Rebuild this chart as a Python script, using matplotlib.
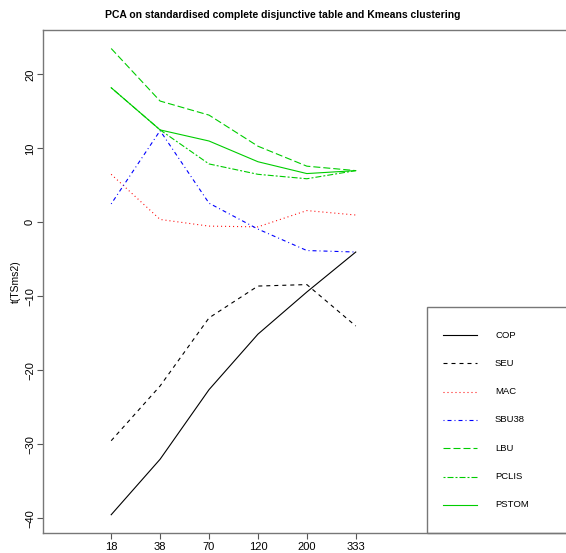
import matplotlib
matplotlib.use("Agg")
import matplotlib.pyplot as plt
from matplotlib.patches import Rectangle
from matplotlib.lines import Line2D

plt.rcParams['font.family'] = ['Liberation Sans', 'DejaVu Sans']
plt.rcParams['lines.scale_dashes'] = False

# data
sizes = ['18', '38', '70', '120', '200', '333']
series = ['COP', 'SEU', 'MAC', 'SBU38', 'LBU', 'PCLIS', 'PSTOM']
cop = [-39.5, -32.0, -22.6, -15.1, -9.4, -4.0]
seu = [-29.5, -22.1, -12.9, -8.6, -8.4, -14.0]
mac = [6.5, 0.4, -0.5, -0.6, 1.6, 1.0]
sbu38 = [2.5, 12.4, 2.6, -0.9, -3.8, -4.0]
lbu = [23.5, 16.4, 14.5, 10.3, 7.6, 7.0]
pclis = [18.2, 12.5, 7.9, 6.5, 5.9, 7.0]
pstom = [18.2, 12.5, 11.0, 8.2, 6.6, 7.0]
values = [cop, seu, mac, sbu38, lbu, pclis, pstom]

# R-like styles (dash lengths in points)
colors = ['black', 'black', '#FF0000', '#0000FF', '#00CD00', '#00CD00', '#00CD00']
p = 0.72
styles = ['-', (0, (4*p, 4*p)), (0, (1*p, 3*p)), (0, (1*p, 3*p, 4*p, 3*p)),
          (0, (7*p, 3*p)), (0, (2*p, 2*p, 6*p, 2*p)), '-']

W, H = 566, 553
fig = plt.figure(figsize=(W/100, H/100), dpi=100)

def fx(px):
    return px / W

def fy(py):
    return 1 - py / H

left, right, top, bottom = 42.7, 571, 30, 532.5
ax = fig.add_axes([fx(left), fy(bottom), fx(right) - fx(left), fy(top) - fy(bottom)])

x = list(range(1, len(sizes) + 1))
for vals, c, ls in zip(values, colors, styles):
    ax.plot(x, vals, color=c, linestyle=ls, lw=0.8)

ax.set_xlim(-0.4, 10.4)
ax.set_ylim(-41.9, 26.0)
ax.set_xticks(x)
ax.set_xticklabels(sizes)
ax.set_yticks([-40, -30, -20, -10, 0, 10, 20])
ax.tick_params(axis='y', labelrotation=90, pad=1.5)
for lab in ax.get_yticklabels():
    lab.set_va('center')
ax.tick_params(length=4, width=0.8, color='#555555', labelsize=8)
ax.tick_params(axis='x', pad=3)
for s in ax.spines.values():
    s.set_color('#777777')
    s.set_linewidth(1.0)

ax.set_ylabel('t(TSms2)', fontsize=7.5, labelpad=3)
fig.suptitle('PCA on standardised complete disjunctive table and Kmeans clustering',
             fontsize=7.5, fontweight='bold', y=fy(15), va='center')

# legend box drawn R-style
fig.patches.append(Rectangle((fx(427), fy(bottom)), fx(W + 10) - fx(427), fy(307) - fy(bottom),
                             transform=fig.transFigure, fill=False, edgecolor='#777777', lw=1.0))
row0, step = 335, 28.3
for i, (name, c, ls) in enumerate(zip(series, colors, styles)):
    yy = fy(row0 + i * step)
    fig.add_artist(Line2D([fx(443), fx(477)], [yy, yy], color=c, linestyle=ls, lw=0.8,
                          transform=fig.transFigure))
    fig.text(fx(495), yy, name, fontsize=6.8, va='center', ha='left')

fig.savefig('out.png', dpi=100)
